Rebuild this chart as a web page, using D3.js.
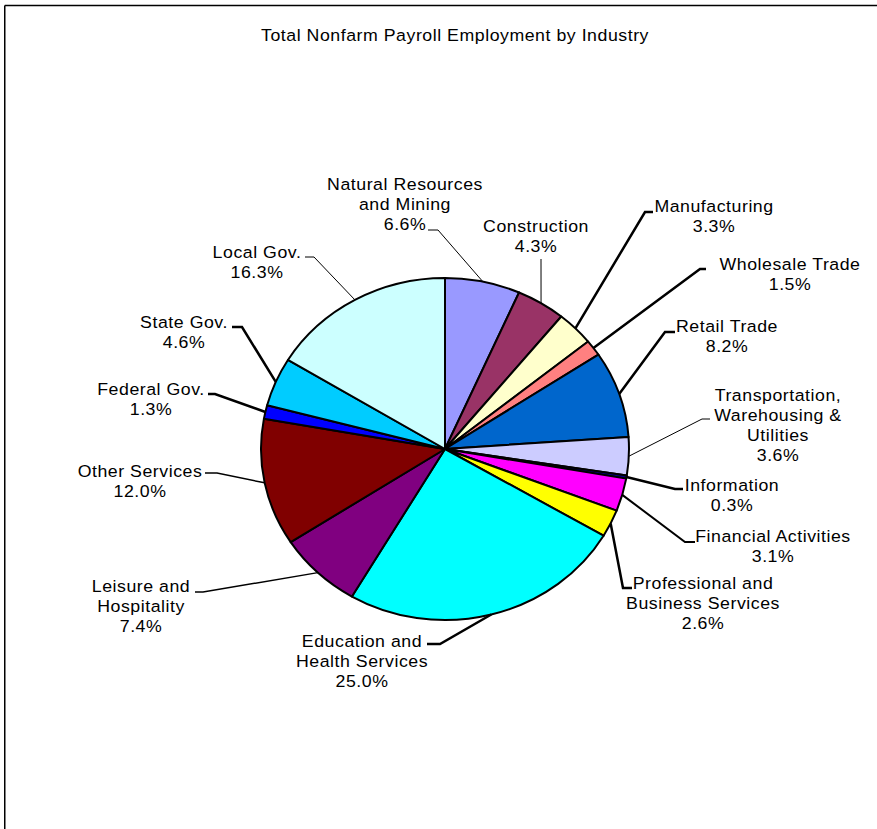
<!DOCTYPE html>
<html>
<head>
<meta charset="utf-8">
<script src="https://cdn.jsdelivr.net/npm/d3@7/dist/d3.min.js"></script>
<style>
  html, body { margin: 0; padding: 0; background: #fff; }
  svg { display: block; }
  text { font-family: "Liberation Sans", Arial, sans-serif; fill: #000; }
</style>
</head>
<body>
<svg id="chart" width="877" height="829"></svg>
<script>
// ---- data ----
const title = "Total Nonfarm Payroll Employment by Industry";
const categories = [
  "Natural Resources\nand Mining",
  "Construction",
  "Manufacturing",
  "Wholesale Trade",
  "Retail Trade",
  "Transportation,\nWarehousing &\nUtilities",
  "Information",
  "Financial Activities",
  "Professional and\nBusiness Services",
  "Education and\nHealth Services",
  "Leisure and\nHospitality",
  "Other Services",
  "Federal Gov.",
  "State Gov.",
  "Local Gov."
];
const values = [6.6, 4.3, 3.3, 1.5, 8.2, 3.6, 0.3, 3.1, 2.6, 25.0, 7.4, 12.0, 1.3, 4.6, 16.3];

// ---- styles ----
const colors = ["#9999FF", "#993366", "#FFFFCC", "#FF8080", "#0066CC", "#CCCCFF", "#000080",
  "#FF00FF", "#FFFF00", "#00FFFF", "#800080", "#800000", "#0000FF", "#00CCFF", "#CCFFFF"];

// label layout: text centre x, first line centre y, leader tick (y, far x near text, near x joined to line), leader width
const labelLayout = [
  {x: 405, y: 184, ty: 230, tf: 428, tn: 438, w: 1},
  {x: 536, y: 226, ty: 259, tf: 541, tn: 541, w: 1},
  {x: 714, y: 206, ty: 212, tf: 653, tn: 645, w: 2.5},
  {x: 790, y: 264, ty: 269, tf: 706, tn: 700, w: 2.5},
  {x: 727, y: 326, ty: 332, tf: 675, tn: 665, w: 2.5},
  {x: 778, y: 395, ty: 419, tf: 710, tn: 702, w: 1},
  {x: 732, y: 485, ty: 489, tf: 683, tn: 675, w: 2.5},
  {x: 773, y: 536, ty: 542, tf: 695, tn: 685, w: 2},
  {x: 703, y: 583, ty: 588, tf: 632, tn: 623, w: 2.5},
  {x: 362, y: 641, ty: 644, tf: 427, tn: 440, w: 2.5},
  {x: 141, y: 586, ty: 592, tf: 195, tn: 203, w: 1.5},
  {x: 140, y: 471, ty: 473, tf: 205, tn: 217, w: 1.5},
  {x: 151, y: 389, ty: 394, tf: 208, tn: 215, w: 2.5},
  {x: 184, y: 322, ty: 327, tf: 232, tn: 242, w: 2.5},
  {x: 257, y: 252, ty: 257, tf: 305, tn: 314, w: 1}
];

const W = 877, H = 829;
const cx = 445, cy = 449, rx = 184, ry = 171;
const fontSize = 16.5, lineGap = 20, stretch = 1.075, spacing = 0.5;

const svg = d3.select("#chart");

// frame (top and left edges visible)
svg.append("line").attr("x1", 4.75).attr("y1", 5.5).attr("x2", W).attr("y2", 5.5)
  .attr("stroke", "#000").attr("stroke-width", 1.5);
svg.append("line").attr("x1", 4.75).attr("y1", 5.5).attr("x2", 4.75).attr("y2", H)
  .attr("stroke", "#000").attr("stroke-width", 1.5);

// title
svg.append("g").attr("transform", `translate(455,${35 + 6}) scale(${stretch},1)`)
  .append("text").attr("text-anchor", "middle").attr("font-size", fontSize)
  .attr("letter-spacing", spacing).text(title);

// pie
const pie = d3.pie().sort(null).value(d => d).startAngle(0).endAngle(2 * Math.PI);
const arcs = pie(values);
const arc = d3.arc().innerRadius(0).outerRadius(ry);

const pg = svg.append("g").attr("transform", `translate(${cx},${cy}) scale(${rx / ry},1)`);
pg.selectAll("path").data(arcs).join("path")
  .attr("d", arc)
  .attr("fill", (d, i) => colors[i])
  .attr("stroke", "#000")
  .attr("stroke-width", 2)
  .attr("stroke-linejoin", "round")
  .attr("vector-effect", "non-scaling-stroke");

// leaders
arcs.forEach((d, i) => {
  const L = labelLayout[i];
  const a = (d.startAngle + d.endAngle) / 2;
  const ex = cx + rx * Math.sin(a), ey = cy - ry * Math.cos(a);
  const pts = [[ex, ey], [L.tn, L.ty], [L.tf, L.ty]];
  svg.append("path")
    .attr("d", d3.line()(pts))
    .attr("fill", "none")
    .attr("stroke", "#000")
    .attr("stroke-width", L.w)
    .attr("stroke-linejoin", "miter");
});

// labels
arcs.forEach((d, i) => {
  const L = labelLayout[i];
  const lines = categories[i].split("\n").concat([values[i].toFixed(1) + "%"]);
  lines.forEach((t, k) => {
    svg.append("g")
      .attr("transform", `translate(${L.x},${L.y + k * lineGap + 6}) scale(${stretch},1)`)
      .append("text")
      .attr("text-anchor", "middle")
      .attr("font-size", fontSize)
      .attr("letter-spacing", spacing)
      .text(t);
  });
});
</script>
</body>
</html>
